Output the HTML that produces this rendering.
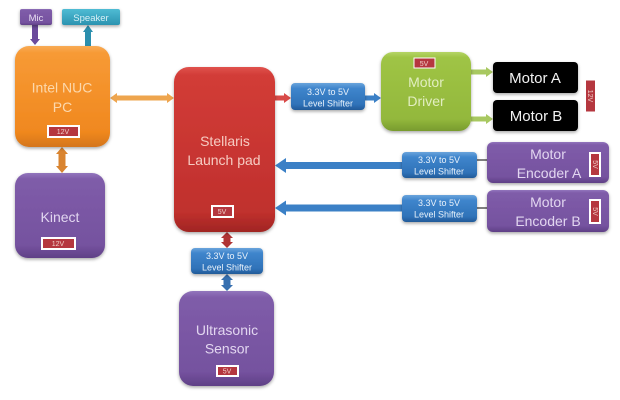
<!DOCTYPE html>
<html><head><meta charset="utf-8">
<style>
html,body{margin:0;padding:0;background:#fff;width:620px;height:400px;overflow:hidden}
svg{display:block;filter:blur(.35px)}
text{font-family:"Liberation Sans",sans-serif;text-anchor:middle}
</style></head>
<body>
<svg width="620" height="400" viewBox="0 0 620 400" xmlns="http://www.w3.org/2000/svg">
<defs>
<linearGradient id="o" x1="0" y1="0" x2="0" y2="1"><stop offset="0" stop-color="#f8ab55"/><stop offset=".07" stop-color="#f79a35"/><stop offset=".85" stop-color="#f0881f"/><stop offset="1" stop-color="#d4751a"/></linearGradient>
<linearGradient id="p" x1="0" y1="0" x2="0" y2="1"><stop offset="0" stop-color="#9275bd"/><stop offset=".07" stop-color="#7f5ca9"/><stop offset=".85" stop-color="#75529f"/><stop offset="1" stop-color="#5f4086"/></linearGradient>
<linearGradient id="r" x1="0" y1="0" x2="0" y2="1"><stop offset="0" stop-color="#e0524d"/><stop offset=".05" stop-color="#d23c37"/><stop offset=".88" stop-color="#c0302d"/><stop offset="1" stop-color="#a02523"/></linearGradient>
<linearGradient id="g" x1="0" y1="0" x2="0" y2="1"><stop offset="0" stop-color="#b5d566"/><stop offset=".07" stop-color="#9fc445"/><stop offset=".85" stop-color="#93b83c"/><stop offset="1" stop-color="#789b2e"/></linearGradient>
<linearGradient id="b" x1="0" y1="0" x2="0" y2="1"><stop offset="0" stop-color="#6aa4dc"/><stop offset=".2" stop-color="#3f85cc"/><stop offset=".8" stop-color="#2f72b8"/><stop offset="1" stop-color="#225a98"/></linearGradient>
<linearGradient id="t" x1="0" y1="0" x2="0" y2="1"><stop offset="0" stop-color="#4fbcd4"/><stop offset="1" stop-color="#2b93b0"/></linearGradient>
<filter id="s" x="-10%" y="-10%" width="120%" height="125%"><feDropShadow dx="0" dy="1.5" stdDeviation="1.5" flood-color="#000" flood-opacity=".35"/></filter>
</defs>

<!-- connectors -->
<g fill="none" stroke-linejoin="miter">
<path d="M35 25V40" stroke="#6b4a9c" stroke-width="6"/><path d="M30 39L35 45L40 39Z" fill="#6b4a9c"/>
<path d="M88 31V46" stroke="#2b8fae" stroke-width="6"/><path d="M83 32L88 25L93 32Z" fill="#2b8fae"/>
<path d="M116 98H168" stroke="#eea54e" stroke-width="5"/><path d="M117 93L110 98L117 103Z" fill="#eea54e"/><path d="M167 93L174 98L167 103Z" fill="#eea54e"/>
<path d="M62 153V167" stroke="#d98430" stroke-width="7"/><path d="M56 154L62 147L68 154Z" fill="#d98430"/><path d="M56 166L62 173L68 166Z" fill="#d98430"/>
<path d="M275 98H285" stroke="#d84a48" stroke-width="5"/><path d="M284 93L291 98L284 103Z" fill="#d84a48"/>
<path d="M365 98H375" stroke="#3b80c6" stroke-width="5"/><path d="M374 93L381 98L374 103Z" fill="#3b80c6"/>
<path d="M471 72H487" stroke="#a8c860" stroke-width="5"/><path d="M486 67L493 72L486 77Z" fill="#a8c860"/>
<path d="M471 119H487" stroke="#a8c860" stroke-width="5"/><path d="M486 114L493 119L486 124Z" fill="#a8c860"/>
<path d="M285 165.500H402" stroke="#3b80c6" stroke-width="7"/><path d="M286 158L275 165.500L286 173Z" fill="#3b80c6"/>
<path d="M285 208H402" stroke="#3b80c6" stroke-width="7"/><path d="M286 200.500L275 208L286 215.500Z" fill="#3b80c6"/>
<path d="M477 160H487M477 208H487" stroke="#555" stroke-width="1.5"/>
<path d="M227 237V243" stroke="#b03434" stroke-width="7"/><path d="M221 238L227 232L233 238Z" fill="#b03434"/><path d="M221 242L227 248L233 242Z" fill="#b03434"/>
<path d="M227 279V286" stroke="#3770b0" stroke-width="7"/><path d="M221 280L227 274L233 280Z" fill="#3770b0"/><path d="M221 285L227 291L233 285Z" fill="#3770b0"/>
</g>

<!-- nodes -->
<g filter="url(#s)">
<rect x="20" y="9" width="32" height="16" rx="2" fill="url(#p)"/>
<rect x="62" y="9" width="58" height="16" rx="2" fill="url(#t)"/>
<rect x="15" y="46" width="95" height="101" rx="14" fill="url(#o)"/>
<rect x="15" y="173" width="90" height="85" rx="13" fill="url(#p)"/>
<rect x="174" y="67" width="101" height="165" rx="15" fill="url(#r)"/>
<rect x="291" y="83" width="74" height="27" rx="4" fill="url(#b)"/>
<rect x="381" y="52" width="90" height="79" rx="12" fill="url(#g)"/>
<rect x="493" y="62" width="85" height="31" rx="4" fill="#050505"/>
<rect x="493" y="100" width="85" height="31" rx="4" fill="#050505"/>
<rect x="487" y="142" width="122" height="41" rx="6" fill="url(#p)"/>
<rect x="487" y="190" width="122" height="42" rx="6" fill="url(#p)"/>
<rect x="402" y="152" width="75" height="26" rx="4" fill="url(#b)"/>
<rect x="402" y="195" width="75" height="27" rx="4" fill="url(#b)"/>
<rect x="191" y="248" width="72" height="26" rx="4" fill="url(#b)"/>
<rect x="179" y="291" width="95" height="95" rx="14" fill="url(#p)"/>
</g>

<!-- voltage tags -->
<g fill="#b5373f" stroke="#fff" stroke-width="2">
<rect x="48" y="126" width="31" height="11"/>
<rect x="42" y="238" width="33" height="11"/>
<rect x="212" y="206" width="21" height="11"/>
<rect x="414" y="58" width="21" height="10" stroke-width="1"/>
<rect x="585.500" y="80" width="10" height="32" stroke-width="1"/>
<rect x="590" y="153" width="10" height="23"/>
<rect x="590" y="200" width="10" height="23"/>
<rect x="217" y="366" width="21" height="10"/>
</g>
<g fill="#f0cfc8" font-size="7">
<text x="63" y="134">12V</text>
<text x="58" y="246">12V</text>
<text x="222" y="214">5V</text>
<text x="424" y="66">5V</text>
<text x="227" y="373.500">5V</text>
<text transform="translate(588,96) rotate(90)">12V</text>
<text transform="translate(593,164.500) rotate(90)">5V</text>
<text transform="translate(593,211.500) rotate(90)">5V</text>
</g>

<!-- labels -->
<g font-size="9.500">
<text x="36" y="21" fill="#e8def2">Mic</text>
<text x="91" y="21" fill="#d8f0f6">Speaker</text>
</g>
<g font-size="14">
<text x="62" y="92.500" fill="#fcd8ac">Intel NUC</text>
<text x="62.500" y="112" fill="#fcd8ac">PC</text>
<text x="60" y="222" fill="#e2d6f0">Kinect</text>
<text x="225" y="146" fill="#f6cbc2">Stellaris</text>
<text x="224" y="165" fill="#f6cbc2">Launch pad</text>
<text x="426" y="87" fill="#e2eec0">Motor</text>
<text x="426" y="106" fill="#e2eec0">Driver</text>
<text x="535" y="83" font-size="15" fill="#f2f2f2">Motor A</text>
<text x="536" y="121" font-size="15" fill="#f2f2f2">Motor B</text>
<text x="548" y="159" fill="#e2d6f0">Motor</text>
<text x="549" y="178" fill="#e2d6f0">Encoder A</text>
<text x="548" y="207" fill="#e2d6f0">Motor</text>
<text x="548" y="226" fill="#e2d6f0">Encoder B</text>
<text x="227" y="335" fill="#e2d6f0">Ultrasonic</text>
<text x="227" y="353.500" fill="#e2d6f0">Sensor</text>
</g>
<g font-size="9" fill="#e8f1fa">
<text x="328" y="95">3.3V to 5V</text>
<text x="328" y="106.500">Level Shifter</text>
<text x="439" y="163">3.3V to 5V</text>
<text x="439" y="174.500">Level Shifter</text>
<text x="439" y="206">3.3V to 5V</text>
<text x="439" y="217.500">Level Shifter</text>
<text x="227" y="259">3.3V to 5V</text>
<text x="227" y="270.500">Level Shifter</text>
</g>
</svg>
</body></html>
